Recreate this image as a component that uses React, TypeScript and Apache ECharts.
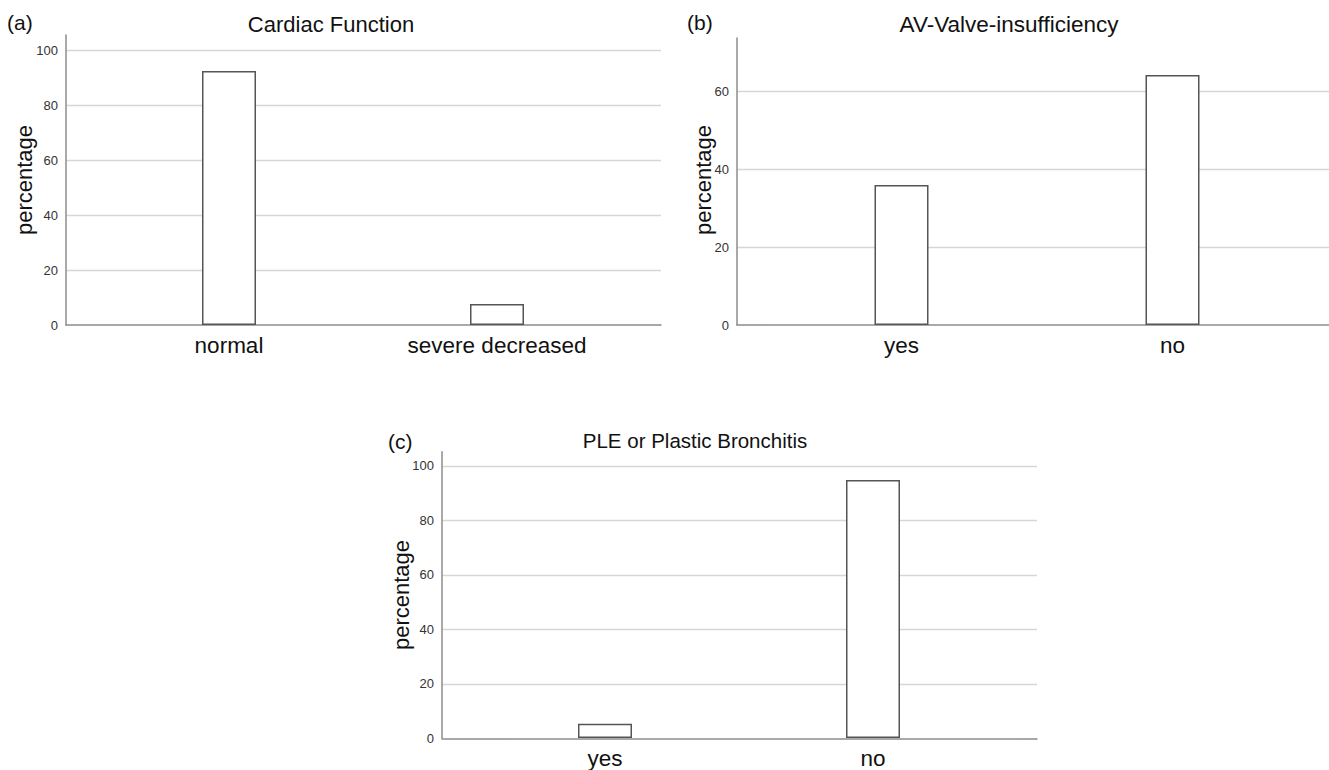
import React, { useEffect, useRef } from "react";
import * as echarts from "echarts";

const catsA = ["normal", "severe decreased"];
const valsA = [92.4, 7.6];
const catsB = ["yes", "no"];
const valsB = [35.9, 64.1];
const catsC = ["yes", "no"];
const valsC = [5.2, 94.8];
const titles = ["Cardiac Function", "AV-Valve-insufficiency", "PLE or Plastic Bronchitis"];
const panelTags = ["(a)", "(b)", "(c)"];
const yName = "percentage";
const yMaxes = [105.5, 73.6, 105.2];
const tickStep = 20;

type Panel = {
  left: number; top: number; width: number; height: number;
  innerLeft: number; innerWidth: number;
  cats: string[]; vals: number[]; max: number;
  title: string; titleX: number; titleY: number; titleSize: number;
  tag: string; tagX: number; tagY: number;
  nameX: number; nameY: number;
};

const panels: Panel[] = [
  { left: 66, top: 35, width: 595, height: 290, innerLeft: 95, innerWidth: 536,
    cats: catsA, vals: valsA, max: yMaxes[0], title: titles[0], titleX: 331, titleY: 24, titleSize: 22,
    tag: panelTags[0], tagX: 7, tagY: 22, nameX: 24, nameY: 180 },
  { left: 737, top: 38, width: 600, height: 287, innerLeft: 766, innerWidth: 542,
    cats: catsB, vals: valsB, max: yMaxes[1], title: titles[1], titleX: 1009, titleY: 24, titleSize: 22.5,
    tag: panelTags[1], tagX: 687, tagY: 22, nameX: 703, nameY: 180 },
  { left: 442, top: 451.7, width: 595, height: 286.6, innerLeft: 471, innerWidth: 536,
    cats: catsC, vals: valsC, max: yMaxes[2], title: titles[2], titleX: 695, titleY: 440, titleSize: 20.5,
    tag: panelTags[2], tagX: 388, tagY: 441, nameX: 401, nameY: 595 },
];

const FONT = "Liberation Sans, Arial, sans-serif";

export default function App() {
  const ref = useRef<HTMLDivElement>(null);
  useEffect(() => {
    if (!ref.current) return;
    const chart = echarts.init(ref.current, undefined, { renderer: "svg" });
    const grid: any[] = [];
    const xAxis: any[] = [];
    const yAxis: any[] = [];
    const series: any[] = [];
    const graphic: any[] = [];
    panels.forEach((p, i) => {
      grid.push({ left: p.left, top: p.top, width: p.width, height: p.height });
      xAxis.push({
        gridIndex: 2 * i, type: "value", min: 0, max: 1,
        axisLine: { show: true, lineStyle: { color: "#8c8c8c", width: 1.5 } },
        axisTick: { show: false }, axisLabel: { show: false }, splitLine: { show: false },
      });
      yAxis.push({
        gridIndex: 2 * i, type: "value", min: 0, max: p.max, interval: tickStep,
        axisLine: { show: true, lineStyle: { color: "#8c8c8c", width: 1.5 } },
        axisTick: { show: false },
        axisLabel: { show: true, showMaxLabel: false, fontSize: 13, color: "#333", margin: 8, fontFamily: FONT },
        splitLine: { show: true, showMaxLine: false, showMinLine: false, lineStyle: { color: "#d6d6d6", width: 1.3 } },
      });
      grid.push({ left: p.innerLeft, top: p.top, width: p.innerWidth, height: p.height });
      xAxis.push({
        gridIndex: 2 * i + 1, type: "category", data: p.cats, boundaryGap: true,
        axisLine: { show: false }, axisTick: { show: false }, splitLine: { show: false },
        axisLabel: { fontSize: 22.5, color: "#111", margin: 9, fontFamily: FONT },
      });
      yAxis.push({ gridIndex: 2 * i + 1, type: "value", min: 0, max: p.max, show: false });
      series.push({
        type: "bar", xAxisIndex: 2 * i + 1, yAxisIndex: 2 * i + 1, data: p.vals, barWidth: 54,
        itemStyle: { color: "#ffffff", borderColor: "#555555", borderWidth: 1.5 },
        emphasis: { disabled: true },
      });
      graphic.push({
        type: "text", x: p.titleX, y: p.titleY,
        style: { text: p.title, font: `${p.titleSize}px ${FONT}`, fill: "#111", textAlign: "center", textVerticalAlign: "middle" },
      });
      graphic.push({
        type: "text", x: p.tagX, y: p.tagY,
        style: { text: p.tag, font: `21px ${FONT}`, fill: "#111", textAlign: "left", textVerticalAlign: "middle" },
      });
      graphic.push({
        type: "text", x: p.nameX, y: p.nameY, rotation: Math.PI / 2,
        style: { text: yName, font: `22px ${FONT}`, fill: "#111", textAlign: "center", textVerticalAlign: "middle" },
      });
    });
    chart.setOption({
      animation: false,
      backgroundColor: "#ffffff",
      grid, xAxis, yAxis, series, graphic,
    });
    return () => chart.dispose();
  }, []);
  return <div ref={ref} style={{ position: "fixed", left: 0, top: 0, width: 1329, height: 770 }} />;
}
